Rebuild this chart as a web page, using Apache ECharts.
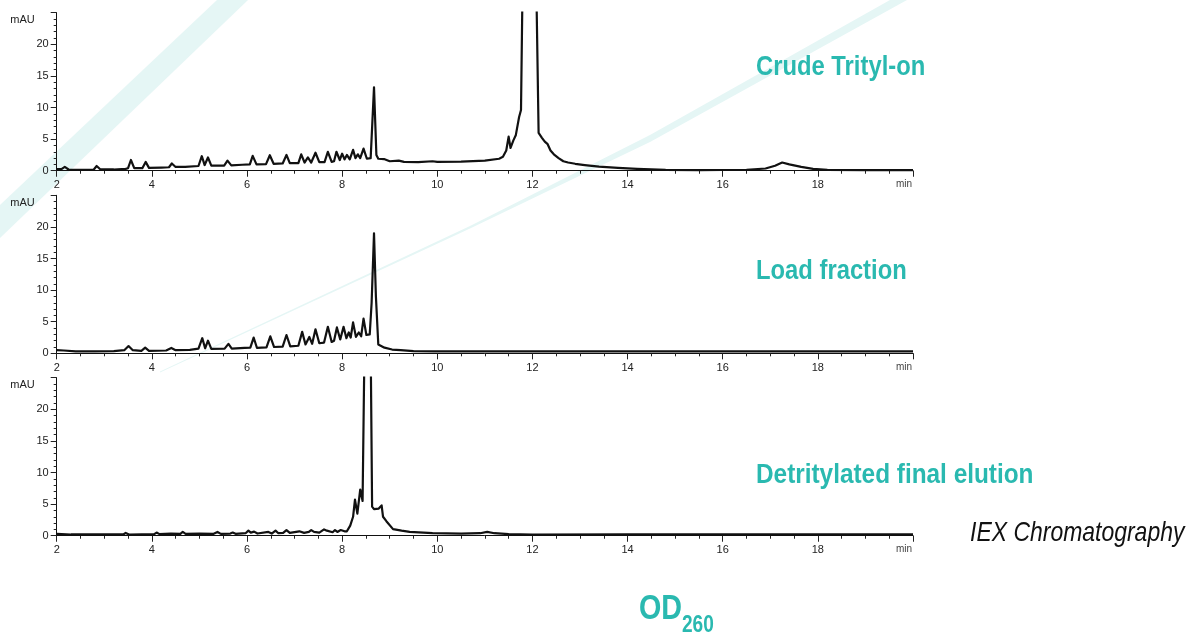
<!DOCTYPE html>
<html>
<head>
<meta charset="utf-8">
<script src="https://cdn.jsdelivr.net/npm/echarts@6/dist/echarts.min.js"></script>
<style>
html,body{margin:0;padding:0;background:#fff;}
#chart{width:1186px;height:633px;}
</style>
</head>
<body>
<div id="chart"></div>
<script>
// ---- data (time in min, absorbance in mAU) ----
const crudeTrace = [[2.00,0.25],[2.10,0.25],[2.17,0.6],[2.25,0.2],[2.5,0.15],[2.78,0.2],[2.84,0.75],[2.92,0.2],[3.2,0.2],[3.45,0.3],[3.50,0.4],[3.56,1.7],[3.63,0.4],[3.8,0.4],[3.87,1.4],[3.94,0.45],[4.2,0.5],[4.36,0.55],[4.42,1.15],[4.5,0.6],[4.7,0.6],[4.98,0.75],[5.05,2.3],[5.11,0.9],[5.18,2.1],[5.25,0.8],[5.52,0.8],[5.59,1.6],[5.67,0.85],[5.9,0.95],[6.06,1.0],[6.12,2.35],[6.2,1.0],[6.4,1.05],[6.48,2.45],[6.56,1.1],[6.75,1.15],[6.83,2.5],[6.9,1.2],[7.08,1.2],[7.14,2.6],[7.21,1.3],[7.28,2.1],[7.35,1.3],[7.44,2.85],[7.52,1.35],[7.63,1.35],[7.7,3.0],[7.78,1.4],[7.83,1.5],[7.88,3.0],[7.95,1.7],[8.0,2.7],[8.05,1.8],[8.1,2.5],[8.16,1.8],[8.23,3.3],[8.28,2.0],[8.33,2.6],[8.38,2.0],[8.45,3.5],[8.52,1.9],[8.6,2.0],[8.67,13.2],[8.72,2.5],[8.76,1.9],[8.88,1.85],[9.0,1.5],[9.19,1.6],[9.3,1.4],[9.6,1.35],[9.9,1.5],[10.0,1.4],[10.5,1.45],[11.0,1.6],[11.3,1.9],[11.38,2.2],[11.45,3.2],[11.5,5.4],[11.54,3.6],[11.6,4.8],[11.65,5.6],[11.72,8.5],[11.76,9.6],[11.81,40],[11.9,80],[12.0,80],[12.07,35],[12.13,6.0],[12.2,5.2],[12.26,4.6],[12.32,4.2],[12.38,3.2],[12.45,2.6],[12.55,2.0],[12.65,1.5],[12.75,1.3],[12.9,1.1],[13.1,0.9],[13.4,0.65],[13.8,0.45],[14.2,0.3],[14.8,0.15],[15.5,0.1],[16.0,0.12],[16.5,0.15],[16.9,0.35],[17.1,0.8],[17.25,1.3],[17.4,1.0],[17.65,0.6],[17.9,0.3],[18.2,0.15],[19.0,0.1],[20.0,0.1]];

const loadTrace = [[2.0,0.5],[2.15,0.45],[2.4,0.3],[2.8,0.3],[3.2,0.35],[3.42,0.5],[3.51,1.15],[3.6,0.5],[3.78,0.4],[3.86,0.9],[3.94,0.4],[4.3,0.45],[4.41,0.85],[4.5,0.5],[4.8,0.55],[4.98,0.75],[5.06,2.4],[5.12,0.8],[5.18,2.0],[5.25,0.7],[5.53,0.75],[5.61,1.5],[5.68,0.75],[5.95,0.85],[6.07,0.9],[6.14,2.5],[6.21,0.85],[6.41,0.95],[6.49,2.7],[6.57,1.0],[6.75,1.05],[6.83,2.9],[6.91,1.1],[7.08,1.2],[7.16,3.4],[7.23,1.4],[7.31,2.6],[7.37,1.5],[7.44,3.8],[7.52,1.6],[7.62,1.7],[7.7,4.2],[7.78,1.8],[7.83,2.0],[7.89,4.1],[7.96,2.2],[8.03,4.2],[8.09,2.4],[8.14,3.3],[8.18,2.5],[8.23,4.9],[8.29,2.6],[8.35,3.3],[8.4,2.7],[8.45,5.5],[8.51,2.9],[8.58,3.0],[8.62,8.0],[8.67,19.0],[8.71,9.0],[8.76,1.4],[8.89,0.9],[9.05,0.6],[9.23,0.5],[9.5,0.35],[9.93,0.3],[10.5,0.3],[11,0.3],[12,0.3],[14,0.3],[16,0.3],[18,0.3],[20,0.3]];

const finalTrace = [[2.0,0.3],[2.3,0.2],[3.0,0.2],[3.4,0.2],[3.45,0.45],[3.52,0.2],[4.05,0.25],[4.1,0.5],[4.16,0.25],[4.4,0.35],[4.6,0.3],[4.65,0.6],[4.71,0.3],[5.0,0.35],[5.3,0.3],[5.38,0.6],[5.45,0.3],[5.65,0.35],[5.7,0.5],[5.76,0.3],[5.97,0.4],[6.03,0.8],[6.08,0.5],[6.15,0.65],[6.22,0.35],[6.45,0.6],[6.52,0.35],[6.6,0.8],[6.66,0.4],[6.76,0.45],[6.83,0.9],[6.9,0.45],[7.1,0.7],[7.2,0.45],[7.3,0.6],[7.35,0.9],[7.41,0.6],[7.45,0.8],[7.52,0.5],[7.62,1.0],[7.68,0.8],[7.72,0.5],[7.8,0.55],[7.85,0.9],[7.9,0.6],[7.97,0.9],[8.05,0.7],[8.1,0.7],[8.17,1.6],[8.23,3.0],[8.27,5.7],[8.32,3.5],[8.38,7.3],[8.43,5.5],[8.47,30],[8.53,60],[8.6,30],[8.63,4.6],[8.67,4.2],[8.77,4.3],[8.83,4.8],[8.86,3.0],[8.93,2.3],[9.07,1.05],[9.25,0.8],[9.42,0.6],[9.9,0.4],[10.5,0.35],[10.9,0.4],[11.05,0.6],[11.2,0.4],[11.5,0.25],[12,0.2],[14,0.2],[16,0.2],[18,0.2],[20,0.2]];

const traces = [crudeTrace, loadTrace, finalTrace];
const traceTitles = ['Crude Trityl-on', 'Load fraction', 'Detritylated final elution'];
const yMajorTicks = [0, 5, 10, 15, 20, 25];
const yLabelValues = [0, 5, 10, 15, 20];
const yMinorTicks = [1,2,3,4,6,7,8,9,11,12,13,14,16,17,18,19,21,22,23,24];
const xMin = 2, xMax = 20, xStep = 2;
const yMin = -0.5, yMax = 25;
const yUnit = 'mAU', xUnit = 'min';
const footerText = 'IEX Chromatography';

// ---- layout ----
const TEAL = '#2ab9b0';
const gridTops = [12.7, 195.3, 377.7];
const gridH = 161.2;
const FONT = '"Liberation Sans", Arial, sans-serif';

const grids = [], xAxes = [], yAxes = [], series = [];
traces.forEach((tr, i) => {
  grids.push({left: 56.7, width: 856.3, top: gridTops[i], height: gridH});
  xAxes.push({
    gridIndex: i, type: 'value', min: xMin, max: xMax, interval: xStep,
    axisLine: {show: true, lineStyle: {color: '#111', width: 1}},
    axisTick: {show: true, length: 6, lineStyle: {color: '#222'}},
    minorTick: {show: true, splitNumber: 4, length: 3, lineStyle: {color: '#222'}},
    splitLine: {show: false},
    axisLabel: {color: '#222', fontSize: 11, fontFamily: FONT, margin: 6, showMaxLabel: false},
    name: xUnit, nameLocation: 'end', nameGap: 0,
    nameTextStyle: {color: '#444', fontSize: 10, fontFamily: FONT, align: 'right', verticalAlign: 'top', padding: [9, 1, 0, 0]}
  });
  yAxes.push({
    gridIndex: i, type: 'value', min: yMin, max: yMax,
    axisLine: {show: true, lineStyle: {color: '#111', width: 1}},
    axisTick: {show: true, length: 6, customValues: yMajorTicks, lineStyle: {color: '#222'}},
    axisLabel: {color: '#222', fontSize: 11, fontFamily: FONT, margin: 8, customValues: yLabelValues},
    splitLine: {show: false},
    name: yUnit, nameLocation: 'end', nameGap: 0,
    nameTextStyle: {color: '#222', fontSize: 11, fontFamily: FONT, align: 'right', verticalAlign: 'top', padding: [2, 22, 0, 0]}
  });
  yAxes.push({
    gridIndex: i, type: 'value', min: yMin, max: yMax, position: 'left', offset: 0,
    axisLine: {show: false},
    axisTick: {show: true, length: 3, customValues: yMinorTicks, lineStyle: {color: '#222'}},
    axisLabel: {show: false},
    splitLine: {show: false}
  });
  series.push({
    type: 'line', xAxisIndex: i, yAxisIndex: i * 2, data: tr,
    showSymbol: false, symbol: 'none', clip: true, z: 3,
    lineStyle: {color: '#111', width: 2.2, join: 'round'}
  });
});

const titleYs = [67, 271, 475.5];
const titleScales = [0.85, 0.85, 0.87];
const graphic = [
  {type: 'polygon', z: -10, silent: true,
   shape: {points: [[217,0],[248,0],[0,238],[0,205]]},
   style: {fill: '#e5f6f5'}},
  {type: 'polygon', z: -10, silent: true,
   shape: {points: [[160,371.5],[470,226],[650,135],[890,0],[907,0],[650,142],[470,228.5],[160,372.5]]},
   style: {fill: '#e5f6f5'}}
];
traceTitles.forEach((t, i) => {
  graphic.push({type: 'text', x: 756, y: titleYs[i], z: 10, scaleX: titleScales[i],
    style: {text: t, fill: TEAL, font: 'bold 28px ' + FONT, verticalAlign: 'middle'}});
});
graphic.push({type: 'text', x: 970, y: 533, z: 10, scaleX: 0.82,
  style: {text: footerText, fill: '#111', font: 'italic 28px ' + FONT, verticalAlign: 'middle'}});
graphic.push({type: 'text', x: 639, y: 609.5, z: 10, scaleX: 0.82,
  style: {text: 'OD', fill: TEAL, font: 'bold 35px ' + FONT, verticalAlign: 'middle'}});
graphic.push({type: 'text', x: 682, y: 625.5, z: 10, scaleX: 0.83,
  style: {text: '260', fill: TEAL, font: 'bold 23px ' + FONT, verticalAlign: 'middle'}});

const chart = echarts.init(document.getElementById('chart'), null, {renderer: 'canvas'});
chart.setOption({
  animation: false,
  backgroundColor: '#fff',
  grid: grids, xAxis: xAxes, yAxis: yAxes, series: series,
  graphic: graphic
});
</script>
</body>
</html>
